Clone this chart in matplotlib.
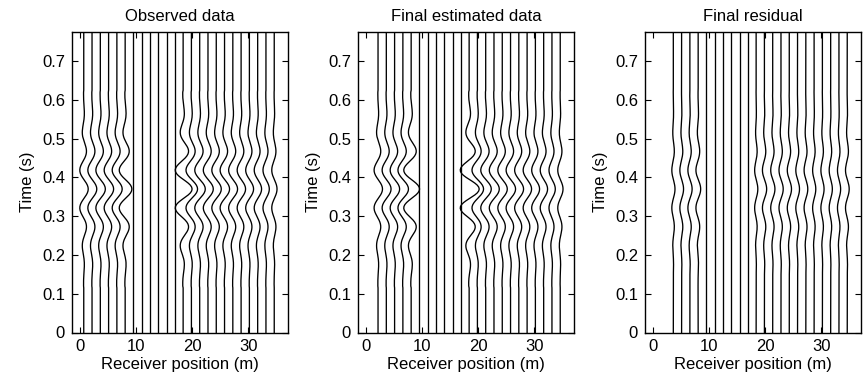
import numpy as np
import matplotlib
matplotlib.use("Agg")
import matplotlib.pyplot as plt

plt.rcParams['font.family'] = ['Liberation Sans', 'DejaVu Sans']

# ---------------- data ----------------
titles = ["Observed data", "Final estimated data", "Final residual"]
receiver_x = [0.6, 2.08, 3.56, 5.04, 6.52, 8.0, 9.48, 10.96, 12.44, 13.92, 15.4, 16.88,
              18.36, 19.84, 21.32, 22.8, 24.28, 25.76, 27.24, 28.72, 30.2, 31.68, 33.16, 34.64]
x_ticks = [0, 10, 20, 30]
y_ticks = [0, 0.1, 0.2, 0.3, 0.4, 0.5, 0.6, 0.7]
t_step = 0.005
t_max = 0.775
t_center = 0.37
# half wavelet (symmetric), sampled every 0.005 s from the centre outward
wavelet_half = [1.000, 0.950, 0.805, 0.581, 0.303, 0.0, -0.295, -0.552, -0.746, -0.858,
                -0.880, -0.815, -0.673, -0.474, -0.241, 0.0, 0.223, 0.407, 0.535, 0.600,
                0.600, 0.542, 0.436, 0.299, 0.148, 0.0, -0.130, -0.232, -0.298, -0.325,
                -0.317, -0.279, -0.219, -0.147, -0.071, 0.0, 0.059, 0.103, 0.128, 0.137,
                0.130, 0.111, 0.085, 0.056, 0.026, 0.0, -0.021, -0.035, -0.043, -0.045, -0.041]
# trace amplitudes (m of deflection); None = trace not drawn
obs_amp = [0.8, 0.85, 0.9, 0.9, 0.95, 1.2, 0, 0, 0, 0, 0, 0,
           1.6, 1.1, 1.0, 0.95, 0.9, 0.9, 0.85, 0.8, 0.75, 0.7, 0.6, 0.5]
est_amp = [None, 0.8, 0.85, 0.9, 1.0, 1.5, 0, 0, 0, 0, 0, 0,
           1.8, 1.1, 1.0, 0.95, 0.9, 0.9, 0.85, 0.8, 0.75, 0.7, 0.6, 0.5]
res_amp = [None, None, 0.3, 0.35, 0.4, 0.45, 0, 0, 0, 0, 0, 0,
           0.3, 0.4, 0.4, 0.4, 0.4, 0.35, 0.35, 0.3, 0.3, 0.3, 0.3, 0.35]
panel_amps = [obs_amp, est_amp, res_amp]

# ---------------- figure ----------------
W, H = 868, 376
fig = plt.figure(figsize=(W / 100, H / 100), dpi=100)
lefts = [72, 358, 645]
ax_w, ax_bot, ax_top = 216, 332.5, 32

time = np.arange(0, t_max + 1e-9, t_step)
wav = np.array(wavelet_half[::-1] + wavelet_half[1:])
half = len(wavelet_half) - 1
ci = int(round(t_center / t_step))

for p in range(3):
    ax = fig.add_axes([lefts[p] / W, (H - ax_bot) / H, ax_w / W, (ax_bot - ax_top) / H])
    for k, x0 in enumerate(receiver_x):
        a = panel_amps[p][k]
        if a is None:
            continue
        sig = np.zeros_like(time)
        lo = ci - half
        for j, v in enumerate(wav):
            idx = lo + j
            if 0 <= idx < len(time):
                sig[idx] = v
        ax.plot(x0 + a * sig, time, color='black', lw=0.95)
    ax.set_xlim(-1.5, 37.1)
    ax.set_ylim(0, t_max)
    ax.set_xticks(x_ticks)
    ax.set_yticks(y_ticks)
    ax.set_yticklabels([f"{v:g}" for v in y_ticks])
    ax.tick_params(direction='in', top=True, right=True, length=4, width=0.8,
                   labelsize=12, pad=5)
    for s in ax.spines.values():
        s.set_linewidth(1.0)
    ax.set_title(titles[p], fontsize=12, pad=8)
    ax.set_xlabel("Receiver position (m)", fontsize=12, labelpad=2)
    ax.set_ylabel("Time (s)", fontsize=12, labelpad=5)

fig.savefig("out.png", dpi=100)
